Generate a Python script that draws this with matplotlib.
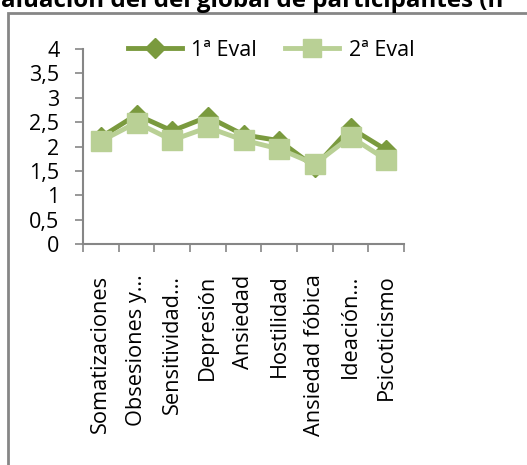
import matplotlib
matplotlib.use('Agg')
import matplotlib.pyplot as plt
from matplotlib.lines import Line2D
from matplotlib.patches import Rectangle

categories = ['Somatizaciones', 'Obsesiones y…', 'Sensitividad…', 'Depresión',
              'Ansiedad', 'Hostilidad', 'Ansiedad fóbica', 'Ideación…', 'Psicoticismo']
eval_1 = [2.19, 2.65, 2.32, 2.61, 2.24, 2.12, 1.58, 2.38, 1.93]
eval_2 = [2.11, 2.49, 2.13, 2.39, 2.13, 1.95, 1.64, 2.20, 1.73]
series_names = ['1ª Eval', '2ª Eval']
y_ticks = [0, 0.5, 1, 1.5, 2, 2.5, 3, 3.5, 4]
y_labels = ['0', '0,5', '1', '1,5', '2', '2,5', '3', '3,5', '4']
title = 'aluación del del global de participantes (n'

DARK = '#7A9A3E'
LIGHT = '#B9D095'
AXIS = '#868686'

plt.rcParams['font.family'] = ['Open Sans', 'DejaVu Sans']

W, H = 527, 465
fig = plt.figure(figsize=(W / 100, H / 100), dpi=100)
ax = fig.add_axes([83 / W, 1 - 244 / H, (404 - 83) / W, (244 - 49) / H])

x = list(range(len(categories)))
ax.plot(x, eval_1, color=DARK, lw=3.5, marker='D', ms=10.5, mec=DARK, zorder=3)
ax.plot(x, eval_2, color=LIGHT, lw=3.5, marker='s', ms=14.5, mec=LIGHT, zorder=4)

ax.set_xlim(-0.5, len(categories) - 0.5)
ax.set_ylim(0, 4)
ax.set_yticks(y_ticks)
ax.set_yticklabels(y_labels, fontsize=15.5)
ax.set_xticks([i - 0.5 for i in range(len(categories) + 1)])
ax.set_xticklabels([])
ax.set_xticks(x, minor=True)
ax.set_xticklabels(categories, minor=True, rotation=90, fontsize=15.7, va='top', ha='center')
ax.tick_params(axis='x', which='minor', length=0, pad=22)
ax.tick_params(axis='both', which='major', length=6, width=1.2, color=AXIS, direction='out')
ax.tick_params(axis='y', pad=11)

for side in ['top', 'right']:
    ax.spines[side].set_visible(False)
for side in ['left', 'bottom']:
    ax.spines[side].set_color(AXIS)
    ax.spines[side].set_linewidth(1.5)

handles = [
    Line2D([], [], color=DARK, lw=3.5, marker='D', ms=10.5),
    Line2D([], [], color=LIGHT, lw=3.5, marker='s', ms=13),
]
fig.legend(handles, series_names, loc='center', bbox_to_anchor=(271 / W, 1 - 50 / H),
           ncol=2, frameon=False, fontsize=15.5, handlelength=2.5, columnspacing=1.3,
           handletextpad=0.45)

# outer chart frame (only left and top edges fall inside the picture)
fig.add_artist(Rectangle((8 / W, -0.2), 1.2, 1.2 - 13 / H, fill=False,
                         edgecolor=AXIS, lw=2, transform=fig.transFigure))

fig.text(252 / W, 1 - 7 / H, title, fontsize=17.4, fontweight='bold',
         ha='center', va='baseline')

fig.savefig('out.png', dpi=100)
